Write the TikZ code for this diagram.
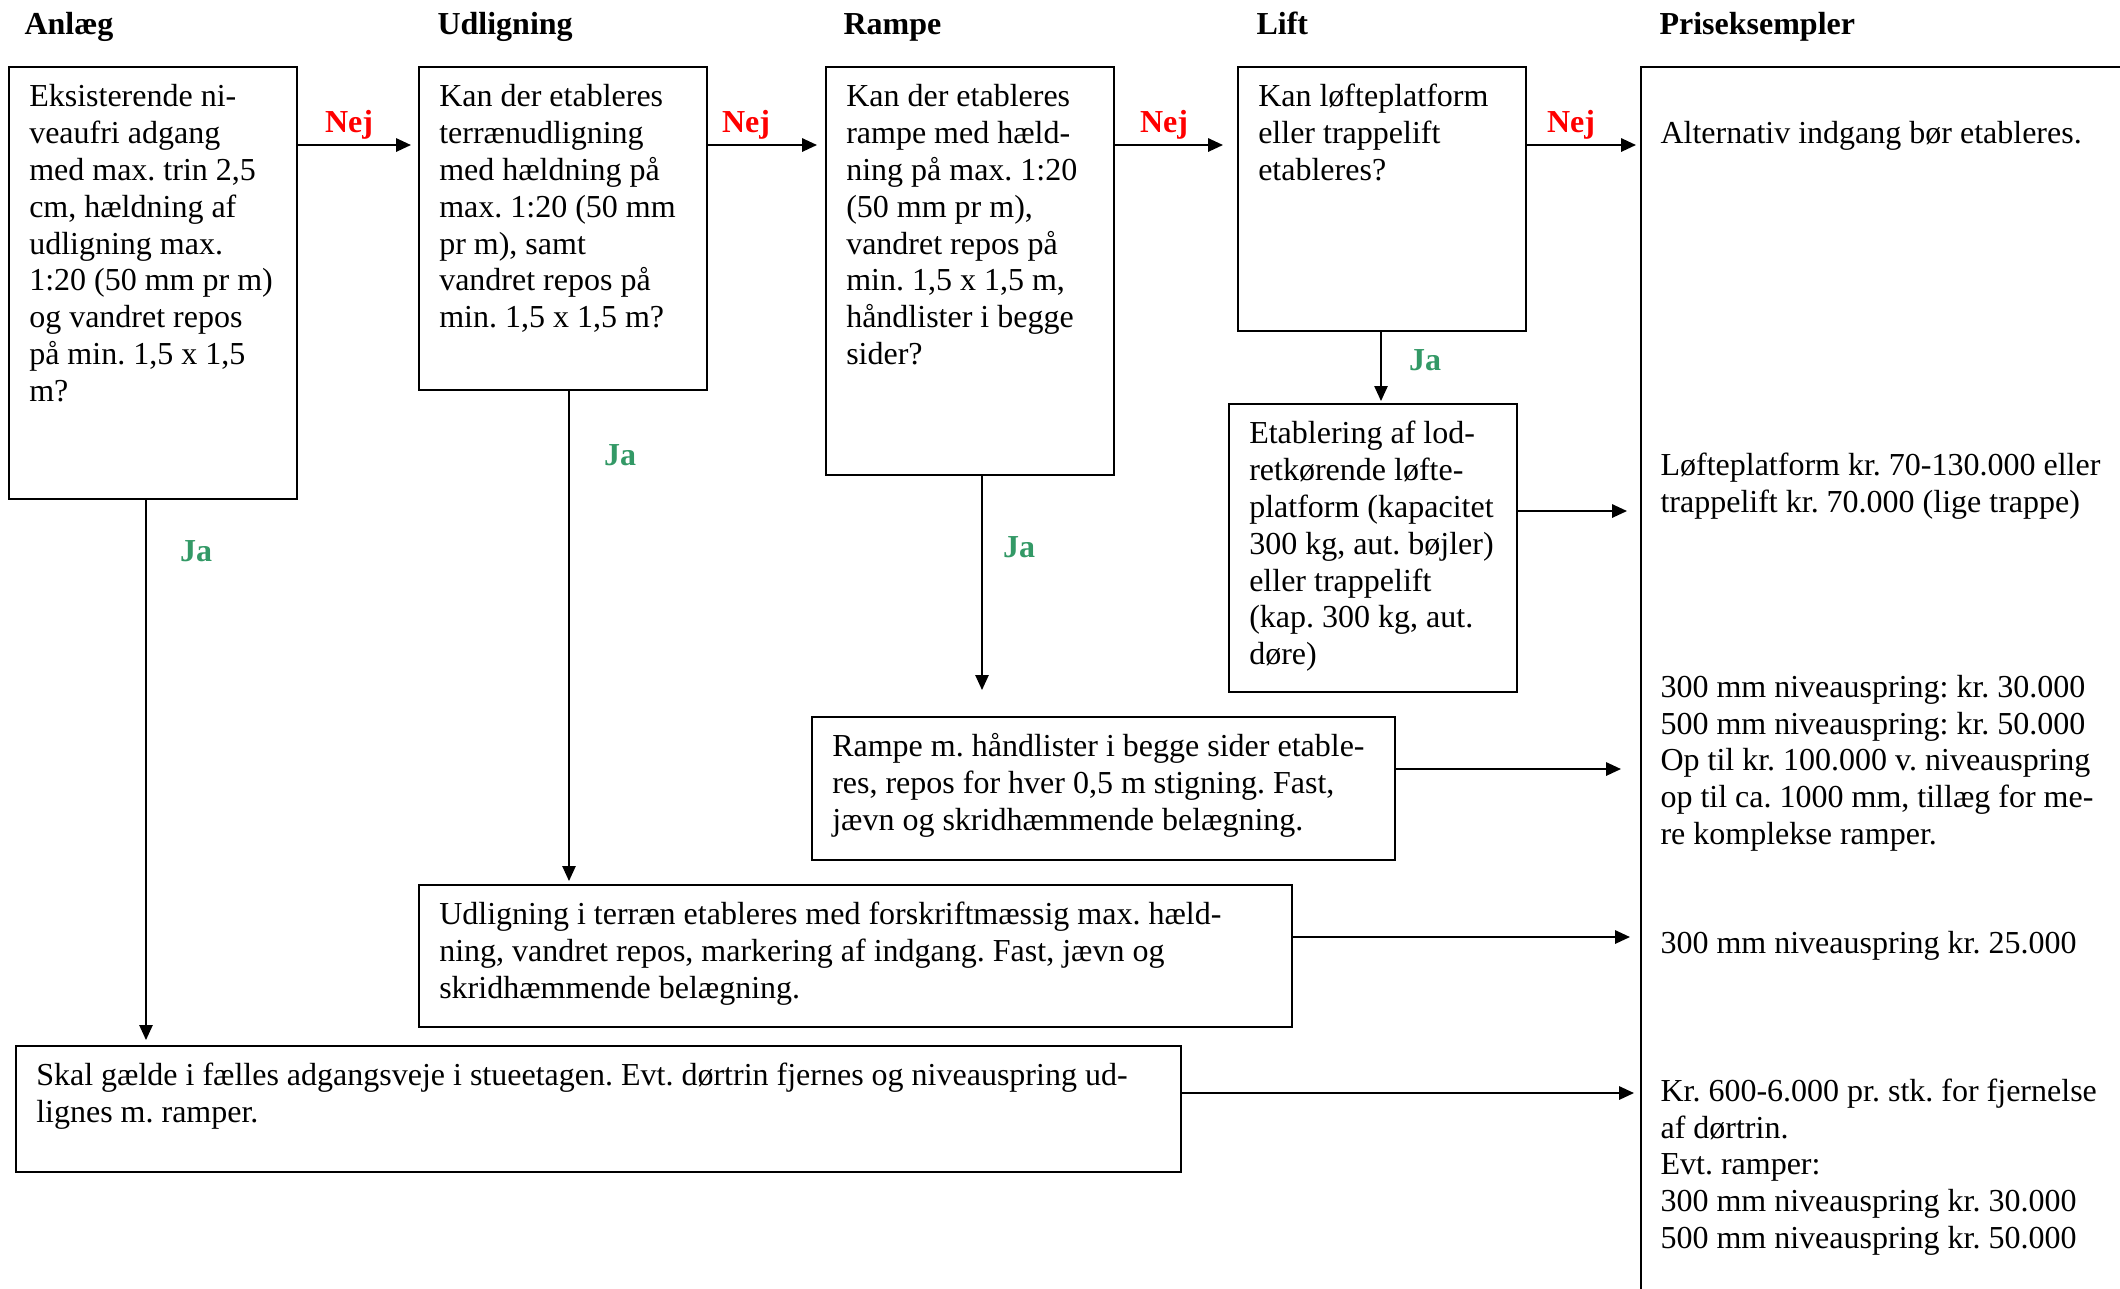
\documentclass[tikz,border=0pt]{standalone}
\usepackage{fontspec}
\setmainfont{Liberation Serif}
\frenchspacing
\usetikzlibrary{calc,arrows.meta}
\definecolor{nejred}{RGB}{255,0,0}
\definecolor{jagreen}{RGB}{51,153,102}
% box text: width and height of the box in px, text set from the top
\newcommand{\boxtext}[3]{\parbox[t][\dimexpr#2pt*3/8-10.6pt\relax][t]{\dimexpr#1pt*3/8-15.2pt\relax}{\rightskip=0pt minus 20pt\strut#3}}
\tikzset{
  txt/.style={font=\fontsize{12}{13.8}\selectfont},
  qbox/.style={txt,draw,line width=0.75pt,anchor=north west,inner xsep=7.6pt,inner ysep=5.3pt},
  qhead/.style={font=\fontsize{12}{13.8}\selectfont\bfseries,anchor=base west,inner sep=0pt},
  qnej/.style={qhead,text=nejred,anchor=base},
  qja/.style={qhead,text=jagreen,anchor=base},
  qprice/.style={txt,anchor=north west,align=left,inner sep=0pt},
  qarrow/.style={line width=0.75pt,-{Triangle[length=5.6pt,width=5pt]}},
  qdown/.style={qarrow,line width=0.5pt},
}

\begin{document}
\begin{tikzpicture}[x=0.375pt,y=-0.375pt]
  \useasboundingbox (0,0) rectangle (2120,1288);
  \clip (0,0) rectangle (2120,1288);
  % column heads
  \foreach \x/\t/\n in {24/Anlæg/hanl,437/Udligning/hudl,843/Rampe/hram,1256/Lift/hlif,1659/Priseksempler/hpris}
    \node[qhead] (\n) at (\x,34) {\t};
  % questions
  \node[qbox] (anl) at (8,66) {\boxtext{288}{432}{Eksisterende ni-\\veaufri adgang\\med max. trin 2,5\\cm, hældning af\\udligning max.\\1:20 (50 mm pr m)\\og vandret repos\\på min. 1,5 x 1,5\\m?}};
  \node[qbox] (udl) at (418,66) {\boxtext{288}{323}{Kan der etableres\\terrænudligning\\med hældning på\\max. 1:20 (50 mm\\pr m), samt\\vandret repos på\\min. 1,5 x 1,5 m?}};
  \node[qbox] (ram) at (825,66) {\boxtext{288}{408}{Kan der etableres\\rampe med hæld-\\ning på max. 1:20\\(50 mm pr m),\\vandret repos på\\min. 1,5 x 1,5 m,\\håndlister i begge\\sider?}};
  \node[qbox] (lif) at (1237,66) {\boxtext{288}{264}{Kan løfteplatform\\eller trappelift\\etableres?}};
  % answers
  \node[qbox] (lia) at (1228,403) {\boxtext{288}{288}{Etablering af lod-\\retkørende løfte-\\platform (kapacitet\\300 kg, aut. bøjler)\\eller trappelift\\(kap. 300 kg, aut.\\døre)}};
  \node[qbox] (rma) at (811,716) {\boxtext{583}{143}{Rampe m. håndlister i begge sider etable-\\res, repos for hver 0,5 m stigning. Fast,\\jævn og skridhæmmende belægning.}};
  \node[qbox] (uda) at (418,884) {\boxtext{873}{142}{Udligning i terræn etableres med forskriftmæssig max. hæld-\\ning, vandret repos, markering af indgang. Fast, jævn og\\skridhæmmende belægning.}};
  \node[qbox] (ska) at (15,1045) {\boxtext{1165}{126}{Skal gælde i fælles adgangsveje i stueetagen. Evt. dørtrin fjernes og niveauspring ud-\\lignes m. ramper.}};
  % price column
  \node[draw,line width=0.75pt,anchor=north west,minimum width=220pt,minimum height=480pt] (pris) at (1640,66) {};
  \node[qprice] (pal) at (1660,117) {\strut Alternativ indgang bør etableres.};
  \node[qprice] (plf) at (1660,449) {\strut Løfteplatform kr. 70-130.000 eller\\trappelift kr. 70.000 (lige trappe)};
  \node[qprice] (prm) at (1660,671) {\strut 300 mm niveauspring: kr. 30.000\\500 mm niveauspring: kr. 50.000\\Op til kr. 100.000 v. niveauspring\\op til ca. 1000 mm, tillæg for me-\\re komplekse ramper.};
  \node[qprice] (pud) at (1660,927) {\strut 300 mm niveauspring kr. 25.000};
  \node[qprice] (psk) at (1660,1075) {\strut Kr. 600-6.000 pr. stk. for fjernelse\\af dørtrin.\\Evt. ramper:\\300 mm niveauspring kr. 30.000\\500 mm niveauspring kr. 50.000};
  % Nej
  \draw[qarrow] ($(anl.north east)+(0,79)$) -- ($(udl.north west)+(-7,79)$);
  \draw[qarrow] ($(udl.north east)+(0,79)$) -- ($(ram.north west)+(-8,79)$);
  \draw[qarrow] ($(ram.north east)+(0,79)$) -- ($(lif.north west)+(-14,79)$);
  \draw[qarrow] ($(lif.north east)+(0,79)$) -- ($(pris.north west)+(-4,79)$);
  \foreach \x/\n in {349/nej1,746/nej2,1164/nej3,1571/nej4}
    \node[qnej] (\n) at (\x,132) {Nej};
  % Ja
  \draw[qdown] ($(anl.south west)+(138,0)$) -- ($(ska.north west)+(131,-5)$);
  \draw[qdown] ($(udl.south west)+(151,0)$) -- ($(uda.north west)+(151,-3)$);
  \draw[qdown] ($(ram.south west)+(157,0)$) -- ($(rma.north west)+(171,-26)$);
  \draw[qdown] ($(lif.south west)+(144,0)$) -- ($(lia.north west)+(153,-2)$);
  \node[qja] (ja1) at (196,561) {Ja};
  \node[qja] (ja2) at (620,465) {Ja};
  \node[qja] (ja3) at (1019,557) {Ja};
  \node[qja] (ja4) at (1425,370) {Ja};
  % to prices
  \draw[qarrow] ($(lia.north east)+(0,108)$) -- ($(pris.north west)+(-13,445)$);
  \draw[qarrow] ($(rma.north east)+(0,53)$) -- ($(pris.north west)+(-19,703)$);
  \draw[qarrow] ($(uda.north east)+(0,53)$) -- ($(pris.north west)+(-10,871)$);
  \draw[qarrow] ($(ska.north east)+(0,48)$) -- ($(pris.north west)+(-6,1027)$);
\end{tikzpicture}
\end{document}
